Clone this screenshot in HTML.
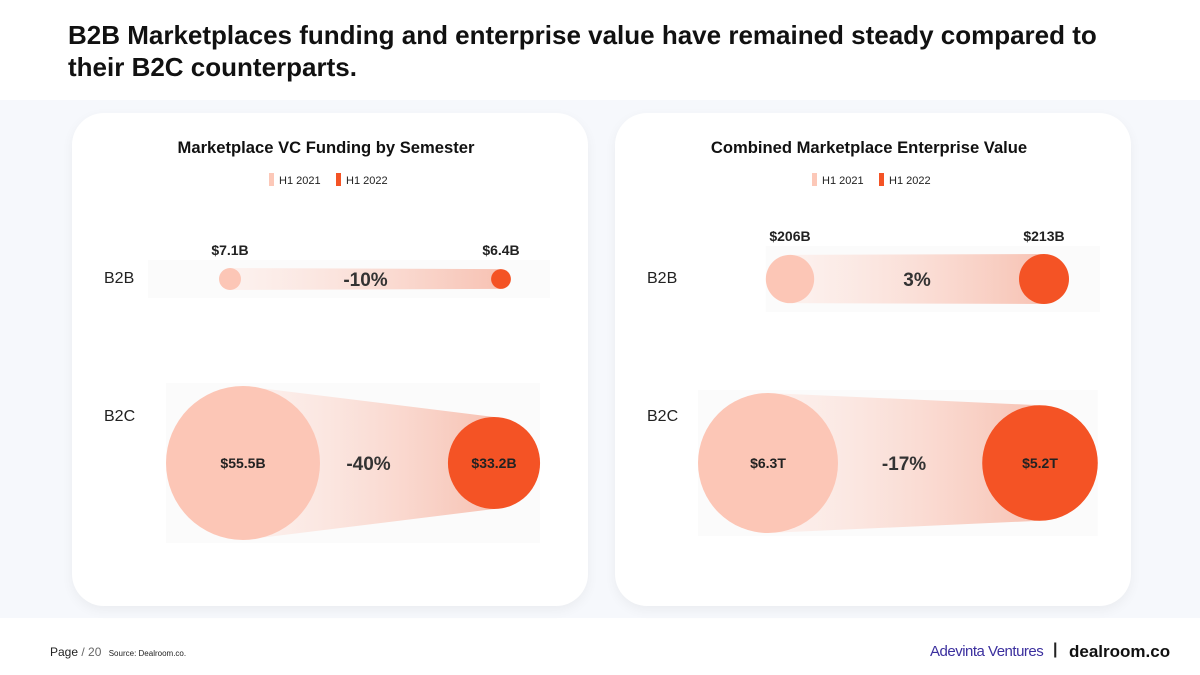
<!DOCTYPE html>
<html><head><meta charset="utf-8">
<style>
body{margin:0;width:1200px;height:675px;overflow:hidden;background:#fff;font-family:"Liberation Sans",sans-serif;position:relative}
.title{position:absolute;left:68px;top:19px;font-size:26px;font-weight:bold;color:#111;line-height:32px;letter-spacing:0px}
.band{position:absolute;left:0;top:100px;width:1200px;height:518px;background:#f6f8fc}
.card{position:absolute;top:113px;width:516px;height:493px;background:#fff;border-radius:32px;box-shadow:0 4px 12px rgba(0,0,0,0.05)}
svg{position:absolute;left:0;top:0}
.foot{position:absolute;top:645px;font-size:12px;color:#222}
</style></head><body>
<div class="title">B2B Marketplaces funding and enterprise value have remained steady compared to<br>their B2C counterparts.</div>
<div class="band"></div>
<div class="card" style="left:72px"></div>
<div class="card" style="left:615px"></div>
<svg id="chart" width="1200" height="675"></svg>
<div class="foot" style="left:50px">Page <span style="color:#666">/ 20</span> <span style="font-size:8px;margin-left:4px">Source: Dealroom.co.</span></div>
<div class="foot" style="left:930px;top:643px;font-size:15px;color:#3b2f9e;letter-spacing:-0.5px">Adevinta Ventures</div>
<div class="foot" style="left:1053px;top:641px;font-size:16px;font-weight:bold">|</div>
<div class="foot" style="left:1069px;top:642px;font-size:17px;font-weight:bold;color:#111">dealroom.co</div>
<script>
const chartTitles=["Marketplace VC Funding by Semester","Combined Marketplace Enterprise Value"];
const categories=["B2B","B2C"];
const h12021=[[7.1,55.5],[206,6.3]];
const h12022=[[6.4,33.2],[213,5.2]];
const labels2021=[["$7.1B","$55.5B"],["$206B","$6.3T"]];
const labels2022=[["$6.4B","$33.2B"],["$213B","$5.2T"]];
const changes=[["-10%","-40%"],["3%","-17%"]];
// layout
const panelX=[0,543];
const rowY=[279,463];
const rowMaxR=[[11,77],[25,70]];
const xStart=[[230,243],[247,225]];
const xEnd=[[501,494],[501,497]];
const NS="http://www.w3.org/2000/svg";
const svg=document.getElementById('chart');
function mk(tag,attrs,parent){const e=document.createElementNS(NS,tag);for(const k in attrs)e.setAttribute(k,attrs[k]);(parent||svg).appendChild(e);return e;}
const defs=mk('defs',{});
const gr=mk('linearGradient',{id:'g',x1:0,x2:1,y1:0,y2:0},defs);
mk('stop',{offset:0,'stop-color':'#fde3dc','stop-opacity':0.4},gr);
mk('stop',{offset:1,'stop-color':'#f7c2b3'},gr);
function rScale(v,p,i){const m=Math.max(h12021[p][i],h12022[p][i]);return rowMaxR[p][i]*v/m;}
for(let p=0;p<2;p++){
  const ox=panelX[p];
  const t=mk('text',{x:ox+326,y:153,'text-anchor':'middle','font-size':16.6,'font-weight':'bold',fill:'#111'});t.textContent=chartTitles[p];
  
  
  const l1=mk('rect',{x:ox+269,y:173,width:5,height:13,fill:'#fcc8b8'});
  
  
  const lt1=mk('text',{x:ox+279,y:184,'font-size':11,fill:'#222'});lt1.textContent="H1 2021";
  
  
  const l2=mk('rect',{x:ox+336,y:173,width:5,height:13,fill:'#f45325'});
  
  
  const lt2=mk('text',{x:ox+346,y:184,'font-size':11,fill:'#222'});lt2.textContent="H1 2022";
  
  
  for(let i=0;i<2;i++){
    const y=rowY[i],x1=ox+xStart[p][i],x2=ox+xEnd[p][i];
    const r1=rScale(h12021[p][i],p,i),r2=rScale(h12022[p][i],p,i);
    const rm=Math.max(r1,r2);
    const bx1=i?x1-r1:(p?x1-r1:ox+148), bx2=i?x2+r2:(p?ox+557:ox+550);
    const bg=mk('rect',{x:bx1,y:y-rm-(i?3:8),width:bx2-bx1,height:2*rm+(i?6:16),fill:'#fbfbfb'});
    
    
    const cat=mk('text',{x:ox+104,y:i?421:283,'font-size':16,fill:'#222'});cat.textContent=categories[i];
    
    
    const band=mk('polygon',{points:`${x1},${y-r1} ${x2},${y-r2} ${x2},${y+r2} ${x1},${y+r1}`,fill:'url(#g)'});
    
    
    const c1=mk('circle',{cx:x1,cy:y,r:r1,fill:'#fcc6b6'});
    
    
    const c2=mk('circle',{cx:x2,cy:y,r:r2,fill:'#f45325'});
    
    
    const big=i===1;
    const ly=big?y+5:y-rm-13;
    const v1=mk('text',{x:x1,y:ly,'text-anchor':'middle','font-size':14,'font-weight':'bold',fill:'#222'});v1.textContent=labels2021[p][i];
    
    
    const v2=mk('text',{x:x2,y:ly,'text-anchor':'middle','font-size':14,'font-weight':'bold',fill:'#222'});v2.textContent=labels2022[p][i];
    
    
    const ch=mk('text',{x:(x1+x2)/2,y:y+7,'text-anchor':'middle','font-size':19,'font-weight':'bold',fill:'#333'});ch.textContent=changes[p][i];
    
    
  }
}
</script>
</body></html>
